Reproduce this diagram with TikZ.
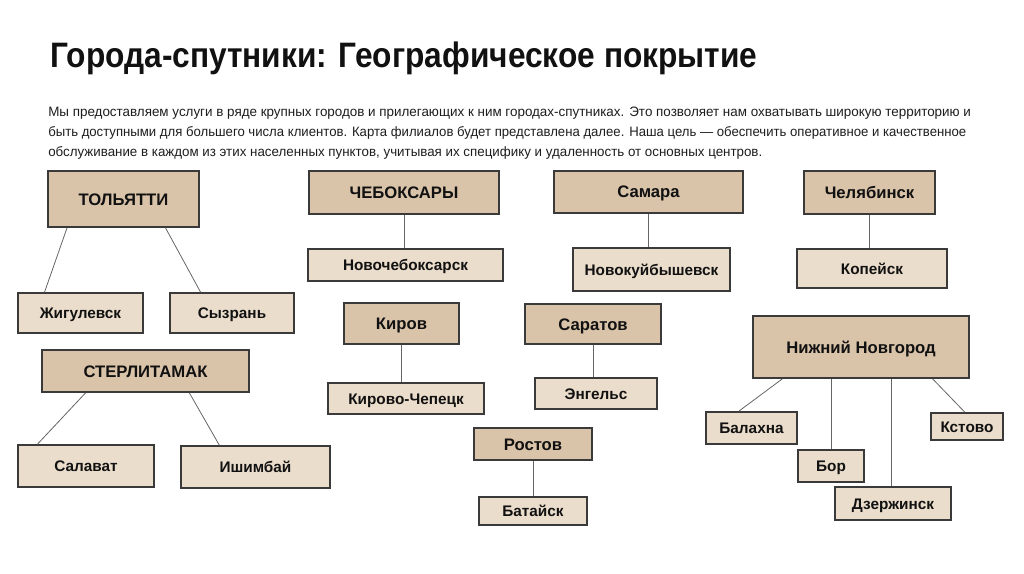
\documentclass[tikz,border=0pt]{standalone}
\usepackage{fontspec}
\setmainfont{Liberation Sans}
\usetikzlibrary{calc}
\definecolor{parentfill}{HTML}{D9C3A9}
\definecolor{childfill}{HTML}{EBDDCC}
\definecolor{boxline}{HTML}{3A3A3A}
\definecolor{connc}{HTML}{666666}
\definecolor{titlec}{HTML}{111111}
\definecolor{bodyc}{HTML}{1E1E1E}
\begin{document}
\begin{tikzpicture}[x=0.75pt,y=-0.75pt,
  sz/.style 2 args={minimum width=#1*0.75pt, minimum height=#2*0.75pt},
  parent/.style={draw=boxline, line width=1.2pt, fill=parentfill, inner sep=0pt,
    font=\fontsize{12.5}{14}\selectfont\bfseries, text=titlec, text height=9pt, text depth=0pt},
  child/.style={draw=boxline, line width=1.2pt, fill=childfill, inner sep=0pt,
    font=\fontsize{11.5}{13}\selectfont\bfseries, text=titlec, text height=8.3pt, text depth=0pt},
  conn/.style={draw=connc, line width=0.6pt},
  para/.style={anchor=base west, inner sep=0pt, text=bodyc, font=\fontsize{10.2}{12}\selectfont}]
\useasboundingbox[fill=white] (0,0) rectangle (1024,574);

% title and paragraph
\node[anchor=base west, inner sep=0pt, text=titlec] (title) at (50,68)
  {\resizebox{530.25pt}{\height}{\fontsize{26.5}{30}\selectfont\bfseries Города-спутники: Географическое покрытие}};
\node[para] (p1) at (48,117) {\resizebox{692pt}{\height}{Мы предоставляем услуги в ряде крупных городов и прилегающих к ним городах-спутниках. Это позволяет нам охватывать широкую территорию и}};
\node[para] (p2) at (48,137) {\resizebox{688.5pt}{\height}{быть доступными для большего числа клиентов. Карта филиалов будет представлена далее. Наша цель — обеспечить оперативное и качественное}};
\node[para] (p3) at (48,157) {\resizebox{535.5pt}{\height}{обслуживание в каждом из этих населенных пунктов, учитывая их специфику и удаленность от основных центров.}};

% parent boxes
\node[parent, sz={151}{56}] (tol) at (123.5,199) {ТОЛЬЯТТИ};
\node[parent, sz={207}{42}] (ster) at (145.5,371) {СТЕРЛИТАМАК};
\node[parent, sz={190}{43}] (cheb) at (404,192.5) {ЧЕБОКСАРЫ};
\node[parent, sz={115}{41}] (kirov) at (401.5,323.5) {Киров};
\node[parent, sz={118}{32}] (rost) at (533,444) {Ростов};
\node[parent, sz={189}{42}] (sam) at (648.5,192) {Самара};
\node[parent, sz={136}{40}] (sar) at (593,324) {Саратов};
\node[parent, sz={131}{43}] (chel) at (869.5,192.5) {Челябинск};
\node[parent, sz={216}{62}] (nn) at (861,347) {Нижний Новгород};

% child boxes
\node[child, sz={125}{40}] (zhig) at (80.5,313) {Жигулевск};
\node[child, sz={124}{40}] (syz) at (232,313) {Сызрань};
\node[child, sz={136}{42}] (sal) at (86,466) {Салават};
\node[child, sz={149}{42}] (ish) at (255.5,467) {Ишимбай};
\node[child, sz={195}{32}] (novcheb) at (405.5,265) {Новочебоксарск};
\node[child, sz={156}{31}] (kch) at (406,398.5) {Кирово-Чепецк};
\node[child, sz={108}{28}] (bat) at (533,511) {Батайск};
\node[child, sz={157}{43}] (novk) at (651.5,269.5) {Новокуйбышевск};
\node[child, sz={122}{31}] (eng) at (596,393.5) {Энгельс};
\node[child, sz={150}{39}] (kop) at (872,268.5) {Копейск};
\node[child, sz={91}{32}] (bal) at (751.5,428) {Балахна};
\node[child, sz={66}{32}] (bor) at (831,466) {Бор};
\node[child, sz={116}{33}] (dz) at (893,503.5) {Дзержинск};
\node[child, sz={72}{27}] (kst) at (967,426.5) {Кстово};

% connectors
\draw[conn] ($(tol.south west)!.13!(tol.south east)$) -- ($(zhig.north west)!.216!(zhig.north east)$);
\draw[conn] ($(tol.south west)!.775!(tol.south east)$) -- ($(syz.north west)!.25!(syz.north east)$);
\draw[conn] ($(ster.south west)!.213!(ster.south east)$) -- ($(sal.north west)!.147!(sal.north east)$);
\draw[conn] ($(ster.south west)!.71!(ster.south east)$) -- ($(ish.north west)!.26!(ish.north east)$);
\draw[conn] (cheb.south) -- (cheb.south |- novcheb.north);
\draw[conn] (kirov.south) -- (kirov.south |- kch.north);
\draw[conn] (rost.south) -- (rost.south |- bat.north);
\draw[conn] (sam.south) -- (sam.south |- novk.north);
\draw[conn] (sar.south) -- (sar.south |- eng.north);
\draw[conn] (chel.south) -- (chel.south |- kop.north);
\draw[conn] ($(nn.south west)!.139!(nn.south east)$) -- ($(bal.north west)!.363!(bal.north east)$);
\draw[conn] ($(nn.south west)!.366!(nn.south east)$) coordinate (nb) -- (nb |- bor.north);
\draw[conn] ($(nn.south west)!.639!(nn.south east)$) coordinate (nd) -- (nd |- dz.north);
\draw[conn] ($(nn.south west)!.829!(nn.south east)$) -- ($(kst.north west)!.47!(kst.north east)$);
\end{tikzpicture}
\end{document}
